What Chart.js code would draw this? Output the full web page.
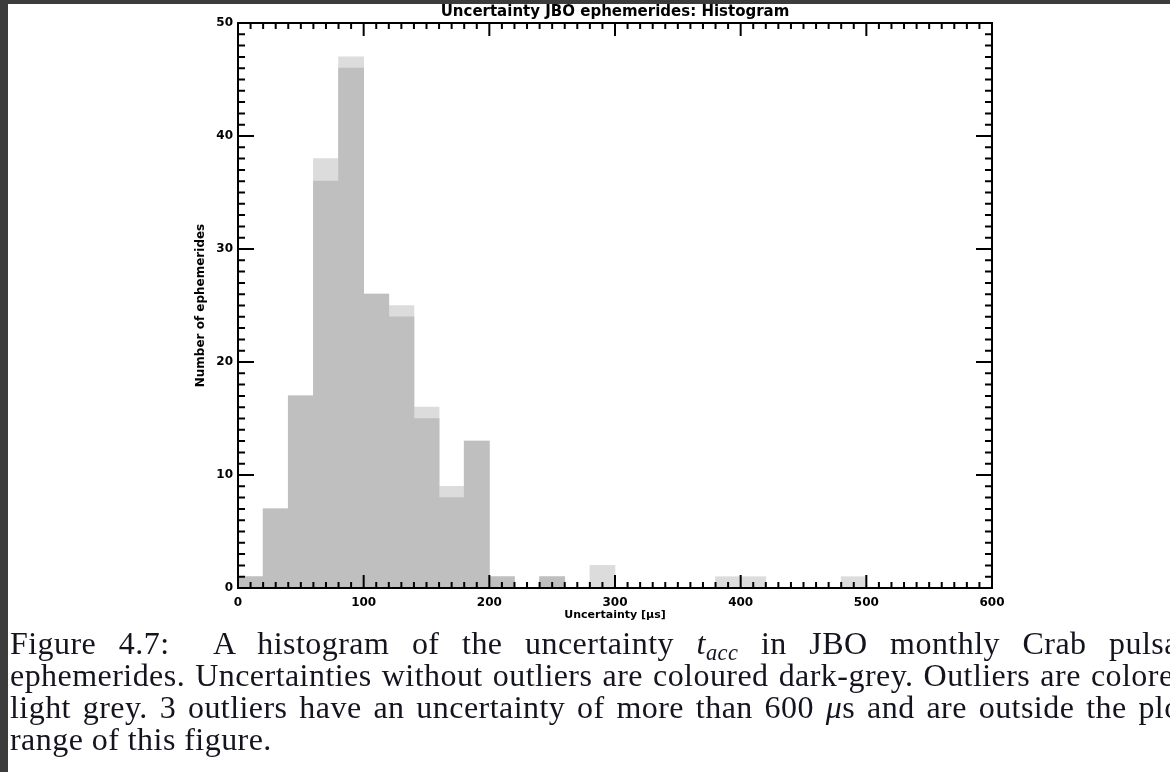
<!DOCTYPE html>
<html>
<head>
<meta charset="utf-8">
<script src="https://cdn.jsdelivr.net/npm/chart.js@4/dist/chart.umd.min.js"></script>
<style>
  html, body { margin: 0; padding: 0; }
  body { width: 1170px; height: 772px; overflow: hidden; background: #3c3c3c; position: relative; }
  #page { position: absolute; left: 8px; top: 4px; right: 0; bottom: 0; background: #ffffff; }
  #plot { position: absolute; left: 180px; top: 0; }
  #caption {
    position: absolute; left: 10px; top: 627px; width: 1180px;
    font-family: "Liberation Serif", serif; font-size: 32px; color: #14141e;
    letter-spacing: 0.45px;
  }
  #caption .ln { height: 32px; line-height: 32px; white-space: nowrap; }
  #caption .just { text-align: justify; text-align-last: justify; }
  #caption i sub { font-size: 0.7em; vertical-align: -0.25em; line-height: 0; }
</style>
</head>
<body>
<div id="page"></div>
<canvas id="plot" width="870" height="630"></canvas>
<div id="caption">
  <div class="ln just">Figure 4.7:&nbsp; A histogram of the uncertainty <i>t<sub>acc</sub></i> in JBO monthly Crab pulsar</div>
  <div class="ln just">ephemerides. Uncertainties without outliers are coloured dark-grey. Outliers are colored</div>
  <div class="ln just">light grey. 3 outliers have an uncertainty of more than 600 <i>μ</i>s and are outside the plot</div>
  <div class="ln">range of this figure.</div>
</div>
<script>
document.addEventListener("DOMContentLoaded", function () {
  // --- Histogram data (bin width 20 µs) ---
  const binCenters = [
    10, 30, 50, 70, 90, 110, 130, 150, 170, 190,
    210, 230, 250, 270, 290, 310, 330, 350, 370, 390,
    410, 430, 450, 470, 490, 510, 530, 550, 570, 590,
  ];
  // without outliers (dark grey)
  const cleanCounts = [
    1, 7, 17, 36, 46, 26, 24, 15, 8, 13,
    1, 0, 1, 0, 0, 0, 0, 0, 0, 0,
    0, 0, 0, 0, 0, 0, 0, 0, 0, 0,
  ];
  // all ephemerides incl. outliers (light grey)
  const allCounts = [
    1, 7, 17, 38, 47, 26, 25, 16, 9, 13,
    1, 0, 1, 0, 2, 0, 0, 0, 0, 1,
    1, 0, 0, 0, 1, 0, 0, 0, 0, 0,
  ];
  const xTicks = [0, 100, 200, 300, 400, 500, 600];
  const yTicks = [0, 10, 20, 30, 40, 50];

  const toPoints = (counts) => binCenters.map((x, i) => ({ x: x, y: counts[i] }));

  // --- Boxed frame with inward ticks on all four sides ---
  const frameTicks = {
    id: "frameTicks",
    afterDatasetsDraw(chart) {
      const { ctx, chartArea: a, scales } = chart;
      const xs = scales.x, ys = scales.y;
      ctx.save();
      ctx.strokeStyle = "#000";
      ctx.lineWidth = 2;
      ctx.strokeRect(a.left, a.top, a.right - a.left, a.bottom - a.top);
      ctx.beginPath();
      for (let v = 0; v <= 600; v += 10) {
        const px = xs.getPixelForValue(v);
        const len = v % 100 === 0 ? 13 : 6;
        ctx.moveTo(px, a.bottom); ctx.lineTo(px, a.bottom - len);
        ctx.moveTo(px, a.top); ctx.lineTo(px, a.top + len);
      }
      for (let v = 0; v <= 50; v += 1) {
        const py = ys.getPixelForValue(v);
        const len = v % 10 === 0 ? 16 : 7;
        ctx.moveTo(a.left, py); ctx.lineTo(a.left + len, py);
        ctx.moveTo(a.right, py); ctx.lineTo(a.right - len, py);
      }
      ctx.stroke();
      ctx.restore();
    },
  };

  const tickFont = { family: "DejaVu Sans", size: 12, weight: "bold" };

  new Chart(document.getElementById("plot"), {
    type: "bar",
    data: {
      datasets: [
        {
          label: "Without outliers",
          data: toPoints(cleanCounts),
          backgroundColor: "#bfbfbf",
          borderWidth: 0,
        },
        {
          label: "With outliers",
          data: toPoints(allCounts),
          backgroundColor: "#dcdcdc",
          borderWidth: 0,
        },
      ],
    },
    options: {
      responsive: false,
      animation: false,
      devicePixelRatio: 1,
      grouped: false,
      barPercentage: 1,
      categoryPercentage: 1,
      layout: { padding: { left: 0, right: 58, top: 0, bottom: 0 } },
      plugins: {
        legend: { display: false },
        tooltip: { enabled: false },
        title: {
          display: true,
          fullSize: false, // centre over the plot box only
          text: "Uncertainty JBO ephemerides: Histogram",
          color: "#000",
          font: { family: "DejaVu Sans", size: 15, weight: "bold" },
          padding: { top: 3, bottom: 2 },
        },
      },
      scales: {
        x: {
          type: "linear",
          min: 0,
          max: 600,
          offset: false,
          grid: { display: false, drawTicks: false },
          border: { display: false },
          afterBuildTicks: (s) => { s.ticks = xTicks.map((v) => ({ value: v })); },
          ticks: { color: "#000", font: tickFont, padding: 8, maxRotation: 0 },
          title: {
            display: true,
            text: "Uncertainty [μs]",
            color: "#000",
            font: { family: "DejaVu Sans", size: 11, weight: "bold" },
            padding: { top: 0, bottom: 8 },
          },
          afterFit: (s) => { s.height = 42; },
        },
        y: {
          min: 0,
          max: 50,
          grid: { display: false, drawTicks: false },
          border: { display: false },
          afterBuildTicks: (s) => { s.ticks = yTicks.map((v) => ({ value: v })); },
          ticks: { color: "#000", font: tickFont, padding: 5 },
          title: {
            display: true,
            text: "Number of ephemerides",
            color: "#000",
            font: { family: "DejaVu Sans", size: 12, weight: "bold" },
            padding: { top: 14, bottom: 0 },
          },
          afterFit: (s) => { s.width = 58; },
        },
      },
    },
    plugins: [frameTicks],
  });
});
</script>
</body>
</html>
